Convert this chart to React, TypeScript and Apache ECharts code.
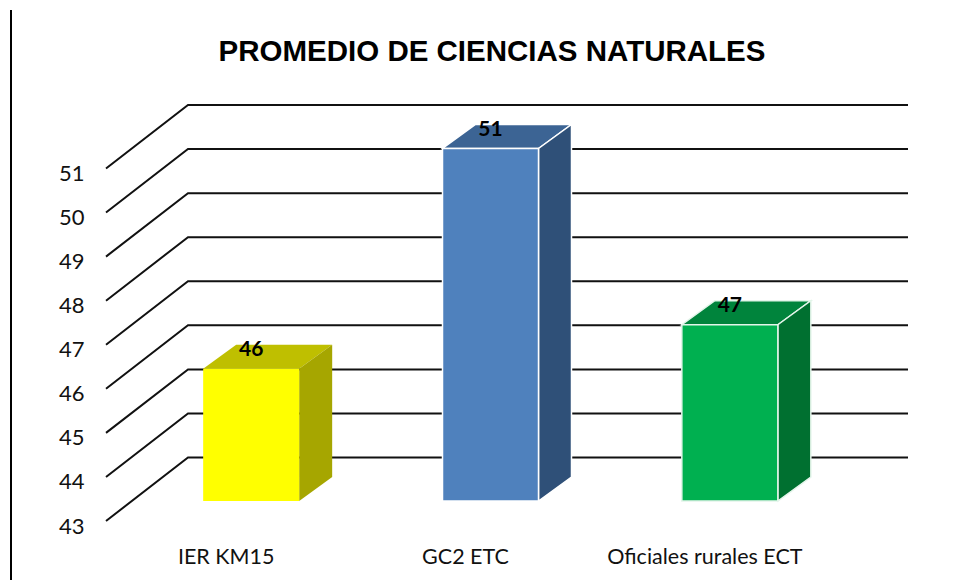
import React, { useEffect, useRef } from "react";
import * as echarts from "echarts";

const titleText = "PROMEDIO DE CIENCIAS NATURALES";
const categories = ["IER KM15", "GC2 ETC", "Oficiales rurales ECT"];
const values = [46, 51, 47];
const axisTicks = [43, 44, 45, 46, 47, 48, 49, 50, 51];
const frontColors = ["#FFFF00", "#4F81BD", "#00B050"];
const topColors = ["#BFBF00", "#3C6494", "#00843C"];
const sideColors = ["#A6A600", "#2F5078", "#007030"];
const edgeColors = ["transparent", "#FFFFFF", "#E4F5EA"];

const BAR_W = 96;
const BAR_DX = 33;
const BAR_DY = 24;
const poly = (points: number[][], fill: string, stroke: string, lineWidth: number) => ({
  type: "polygon",
  shape: { points },
  style: { fill, stroke, lineWidth },
});

function renderGrid(params: any, api: any) {
  const sys = params.coordSys;
  const y = api.coord([0, api.value(0)])[1];
  return {
    type: "polyline",
    shape: {
      points: [
        [sys.x - 25.5, y + 20],
        [sys.x + 56.5, y - 43.5],
        [sys.x + sys.width + 58.5, y - 43.5],
      ],
    },
    style: { fill: "none", stroke: "#111111", lineWidth: 2 },
  };
}

function renderBar(params: any, api: any) {
  const i = params.dataIndex;
  const [cx, yTop] = api.coord([api.value(0), api.value(1)]);
  const yBase = api.coord([api.value(0), 43])[1];
  const l = cx - BAR_W / 2;
  const r = cx + BAR_W / 2;
  const edge = edgeColors[i];
  return {
    type: "group",
    children: [
      poly([[l, yTop], [r, yTop], [r + BAR_DX, yTop - BAR_DY], [l + BAR_DX, yTop - BAR_DY]], topColors[i], edge, 1.5),
      poly([[r, yTop], [r + BAR_DX, yTop - BAR_DY], [r + BAR_DX, yBase - BAR_DY], [r, yBase]], sideColors[i], edge, 1.5),
      poly([[l, yTop], [r, yTop], [r, yBase], [l, yBase]], frontColors[i], edge, 1.5),
      {
        type: "text",
        x: cx,
        y: yTop - 21,
        style: {
          text: String(api.value(1)),
          fill: "#000000",
          font: "bold 21px Lato",
          align: "center",
          verticalAlign: "middle",
        },
      },
    ],
  };
}

export default function App() {
  const ref = useRef<HTMLDivElement>(null);
  useEffect(() => {
    const chart = echarts.init(ref.current!, null, { renderer: "svg" });
    chart.setOption({
      animation: false,
      backgroundColor: "#FFFFFF",
      title: {
        text: titleText,
        left: 487,
        top: 30,
        textAlign: "center",
        textStyle: { fontFamily: "Liberation Sans", fontWeight: "bold", fontSize: 29.5, color: "#000000" },
      },
      graphic: [
        { type: "line", shape: { x1: 11, y1: 10, x2: 11, y2: 580 }, style: { stroke: "#000000", lineWidth: 2 } },
      ],
      grid: [
        { left: 131.5, top: 148.5, width: 718, height: 352.5 },
        { left: 131.5, top: 172, width: 718, height: 353 },
      ],
      xAxis: [
        {
          type: "category",
          data: categories,
          axisLine: { show: false },
          axisTick: { show: false },
          axisLabel: {
            fontFamily: "Lato",
            fontSize: 21.5,
            color: "#111111",
            margin: 44,
            padding: [0, 50, 0, 0],
            interval: 0,
          },
        },
        { type: "category", gridIndex: 1, data: categories, show: false },
      ],
      yAxis: [
        {
          type: "value",
          min: 43,
          max: 51,
          interval: 1,
          axisLine: { show: false },
          axisTick: { show: false },
          splitLine: { show: false },
          axisLabel: { show: false },
        },
        {
          type: "value",
          gridIndex: 1,
          min: 43,
          max: 51,
          interval: 1,
          axisLine: { show: false },
          axisTick: { show: false },
          splitLine: { show: false },
          axisLabel: { fontFamily: "Lato", fontSize: 22, color: "#111111", margin: 47 },
        },
      ],
      series: [
        {
          type: "custom",
          coordinateSystem: "cartesian2d",
          renderItem: renderGrid,
          data: axisTicks.map((t) => [t]),
          encode: { y: 0 },
          silent: true,
          z: 1,
        },
        {
          type: "custom",
          coordinateSystem: "cartesian2d",
          renderItem: renderBar,
          data: values.map((v, i) => [i, v]),
          encode: { x: 0, y: 1 },
          z: 2,
        },
      ],
    });
    return () => chart.dispose();
  }, []);
  return <div ref={ref} style={{ position: "absolute", left: 0, top: 0, width: 958, height: 580 }} />;
}
